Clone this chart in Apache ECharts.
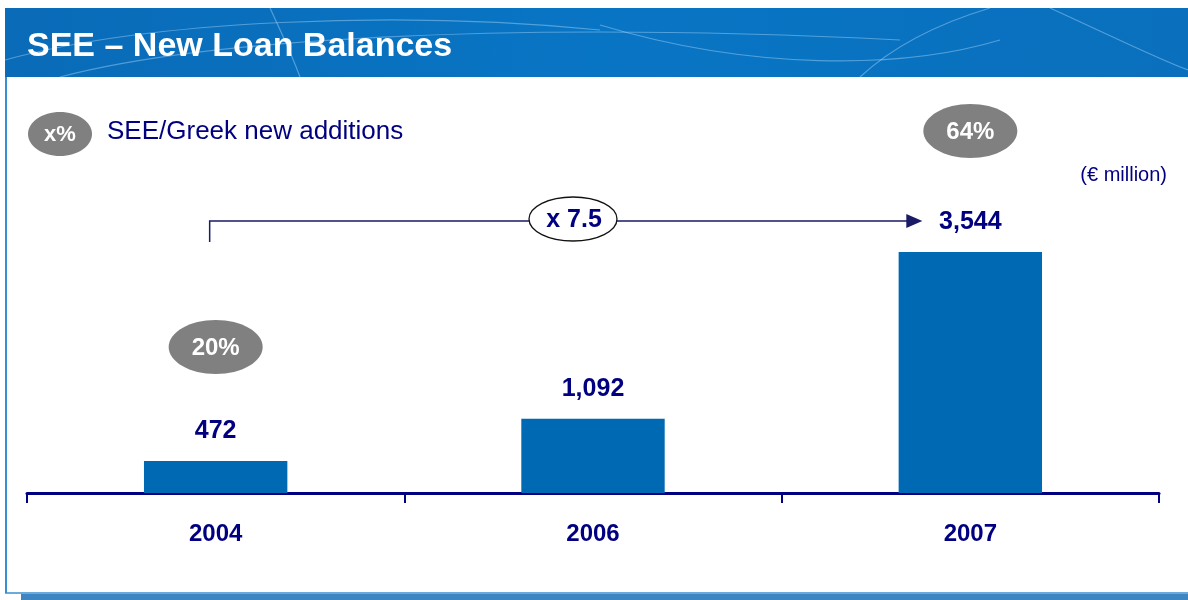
<!DOCTYPE html>
<html>
<head>
<meta charset="utf-8">
<title>SEE – New Loan Balances</title>
<script src="https://cdn.jsdelivr.net/npm/echarts@6/dist/echarts.min.js"></script>
<style>
	html, body { margin: 0; padding: 0; background: #fff; }
	#chart1 { width: 1188px; height: 600px; }
</style>
</head>
<body>
<div id="chart1"></div>
<script>
// data
var years = ['2004', '2006', '2007'];
var balances = [472, 1092, 3544];
var greekShare = ['20%', null, '64%'];   // SEE/Greek new additions
var shareY = [347, null, 131];           // where the grey bubbles sit

var FONT = '"Liberation Sans", Arial, sans-serif';
var NAVY = '#000080';

var myChart = echarts.init(document.getElementById('chart1'));

var option = {
	animation: false,
	grid: {
		left: 27,
		right: 29,
		top: 153,
		bottom: 107
	},
	xAxis: {
		type: 'category',
		data: years,
		axisLine: { lineStyle: { color: NAVY, width: 3 } },
		axisTick: { show: true, length: 10, alignWithLabel: false, lineStyle: { color: NAVY, width: 2 } },
		axisLabel: {
			color: NAVY,
			fontFamily: FONT,
			fontWeight: 'bold',
			fontSize: 24,
			margin: 29
		}
	},
	yAxis: {
		type: 'value',
		min: 0,
		max: 5000,
		show: false,
		splitLine: { show: false }
	},
	series: [
		{
			type: 'bar',
			data: balances,
			barWidth: '38%',
			itemStyle: { color: '#0069B4' },
			label: {
				show: true,
				position: 'top',
				distance: 17,
				color: NAVY,
				fontFamily: FONT,
				fontWeight: 'bold',
				fontSize: 25,
				formatter: function(p) {
					return echarts.format.addCommas(p.value);
				}
			}
		}
	],
	graphic: []
};
myChart.setOption(option);

// decorations: banner, panel border, legend, growth arrow, share bubbles
var g = [];

g.push({
	type: 'rect', z: 1,
	shape: { x: 5, y: 8, width: 1183, height: 69 },
	style: {
		fill: new echarts.graphic.LinearGradient(0, 0, 1, 1, [
			{ offset: 0, color: '#0A6BB8' },
			{ offset: 0.5, color: '#0875C4' },
			{ offset: 1, color: '#0A70BD' }
		])
	}
});
// faint curves in the banner
var curves = [
	[[5, 60], [150, 20], [400, 10], [600, 30]],
	[[60, 77], [200, 40], [500, 20], [900, 40]],
	[[600, 25], [750, 70], [900, 70], [1000, 40]],
	[[860, 77], [900, 40], [950, 20], [990, 8]],
	[[1050, 8], [1120, 40], [1160, 60], [1188, 70]],
	[[300, 77], [290, 50], [280, 30], [270, 8]]
];
curves.forEach(function(c) {
	g.push({
		type: 'bezierCurve', z: 2, silent: true,
		shape: { x1: c[0][0], y1: c[0][1], cpx1: c[1][0], cpy1: c[1][1], cpx2: c[2][0], cpy2: c[2][1], x2: c[3][0], y2: c[3][1] },
		style: { stroke: 'rgba(170,215,250,0.45)', lineWidth: 1.2, fill: null }
	});
});
g.push({
	type: 'text', z: 3, x: 27, y: 47,
	style: { text: 'SEE \u2013 New Loan Balances', fill: '#fff', font: 'bold 34px ' + FONT, textVerticalAlign: 'middle' }
});

// panel border
g.push({ type: 'line', shape: { x1: 6, y1: 77, x2: 6, y2: 593 }, style: { stroke: '#3A8FD0', lineWidth: 2 } });
g.push({ type: 'line', shape: { x1: 5, y1: 593, x2: 1188, y2: 593 }, style: { stroke: '#3A8FD0', lineWidth: 1.5 } });
g.push({ type: 'rect', shape: { x: 21, y: 594, width: 1167, height: 6 }, style: { fill: '#3D86C2' } });

// legend
g.push({ type: 'ellipse', shape: { cx: 60, cy: 134, rx: 32, ry: 22 }, style: { fill: '#808080' } });
g.push({
	type: 'text', x: 60, y: 135,
	style: { text: 'x%', fill: '#fff', font: 'bold 22px ' + FONT, textAlign: 'center', textVerticalAlign: 'middle' }
});
g.push({
	type: 'text', x: 107, y: 132,
	style: { text: 'SEE/Greek new additions', fill: NAVY, font: '26px ' + FONT, textVerticalAlign: 'middle' }
});
g.push({
	type: 'text', x: 1167, y: 175,
	style: { text: '(\u20AC million)', fill: NAVY, font: '20px ' + FONT, textAlign: 'right', textVerticalAlign: 'middle' }
});

// growth arrow from first to last year
var xFirst = myChart.convertToPixel({ xAxisIndex: 0 }, years[0]) - 6;
var xLast = myChart.convertToPixel({ xAxisIndex: 0 }, years[years.length - 1]);
var arrowEnd = xLast - 48;
var mult = (balances[balances.length - 1] / balances[0]).toFixed(1);
g.push({
	type: 'polyline',
	shape: { points: [[xFirst, 242], [xFirst, 221], [arrowEnd - 14, 221]] },
	style: { stroke: '#1A1A66', lineWidth: 1.5, fill: null }
});
g.push({
	type: 'polygon',
	shape: { points: [[arrowEnd - 16, 214], [arrowEnd, 221], [arrowEnd - 16, 228]] },
	style: { fill: '#1A1A66' }
});
g.push({ type: 'ellipse', shape: { cx: 573, cy: 219, rx: 44, ry: 22 }, style: { fill: '#fff', stroke: '#111', lineWidth: 1.3 } });
g.push({
	type: 'text', x: 574, y: 220,
	style: { text: 'x ' + mult, fill: NAVY, font: 'bold 25px ' + FONT, textAlign: 'center', textVerticalAlign: 'middle' }
});

// share bubbles above bars
greekShare.forEach(function(s, i) {
	if (!s) return;
	var cx = myChart.convertToPixel({ xAxisIndex: 0 }, years[i]);
	g.push({ type: 'ellipse', shape: { cx: cx, cy: shareY[i], rx: 47, ry: 27 }, style: { fill: '#808080' } });
	g.push({
		type: 'text', x: cx, y: shareY[i] + 1,
		style: { text: s, fill: '#fff', font: 'bold 24px ' + FONT, textAlign: 'center', textVerticalAlign: 'middle' }
	});
});

myChart.setOption({ graphic: g });

window.onresize = function() {
	myChart.resize();
}
</script>
</body>
</html>
